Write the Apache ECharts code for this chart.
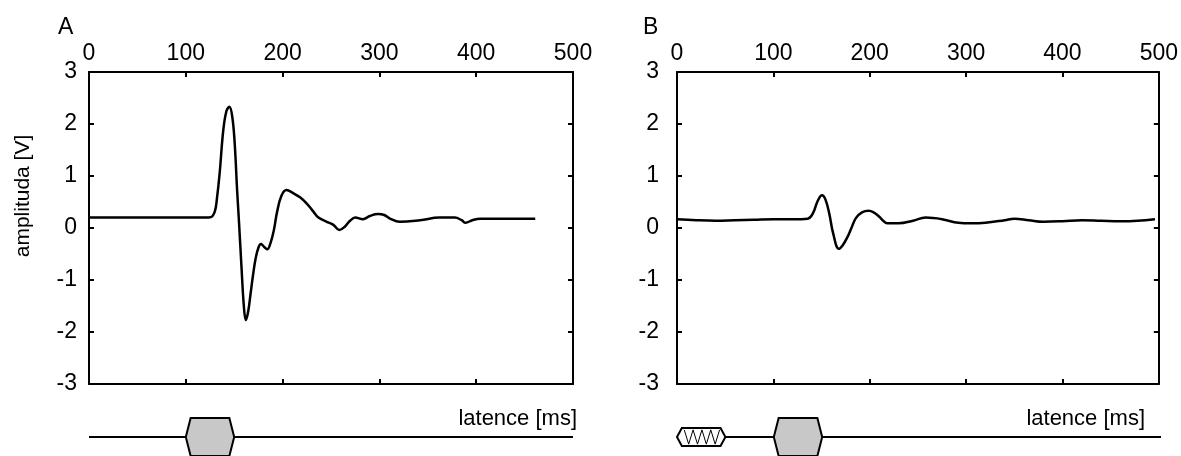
<!DOCTYPE html>
<html>
<head>
<meta charset="utf-8">
<script src="https://cdn.jsdelivr.net/npm/echarts@6/dist/echarts.min.js"></script>
<style>
  html, body { margin: 0; padding: 0; background: #fff; }
  #chart { width: 1181px; height: 456px; }
</style>
</head>
<body>
<div id="chart"></div>
<script>
var FONT = 'Liberation Sans, Arial, sans-serif';

// panel A - response (latence [ms], amplituda [V])
var timeA = [0, 60, 120, 126, 130, 132, 135, 138.7, 142, 145, 148, 150.5, 153, 155, 157.5, 160, 162, 164.5, 167, 169.5, 172, 175, 177.7, 180.8, 184, 187.5, 191, 194.3, 198.8, 204, 211, 218, 225, 232, 237, 245.6, 252.5, 258.6, 264.5, 269.7, 275, 283, 290, 298.5, 305, 311, 321, 342, 362, 378, 385, 389, 396, 404, 430, 461];
var valA = [0.2, 0.2, 0.2, 0.21, 0.32, 0.54, 1.06, 1.88, 2.25, 2.33, 2.14, 1.63, 0.73, 0.1, -0.74, -1.51, -1.77, -1.6, -1.25, -0.9, -0.6, -0.38, -0.31, -0.36, -0.41, -0.29, -0.04, 0.31, 0.62, 0.73, 0.67, 0.59, 0.47, 0.31, 0.2, 0.12, 0.06, -0.04, 0.03, 0.14, 0.2, 0.17, 0.23, 0.27, 0.25, 0.18, 0.12, 0.15, 0.2, 0.2, 0.15, 0.1, 0.15, 0.18, 0.18, 0.18];

// panel B - response after conditioning stimulus
var timeB = [0, 20, 40, 60, 80, 100, 120, 135.6, 141, 146, 150.5, 154, 158, 162, 168, 172, 177, 181, 185.6, 192, 199, 204, 209.7, 214, 218, 230, 245, 258, 275, 292, 305, 320, 340, 350, 365, 380, 400, 420, 440, 460, 478, 496];
var valB = [0.17, 0.15, 0.14, 0.15, 0.16, 0.17, 0.17, 0.18, 0.28, 0.52, 0.63, 0.55, 0.28, -0.1, -0.4, -0.33, -0.17, 0.0, 0.19, 0.3, 0.33, 0.3, 0.22, 0.14, 0.09, 0.09, 0.14, 0.2, 0.17, 0.1, 0.09, 0.1, 0.15, 0.18, 0.15, 0.12, 0.13, 0.15, 0.14, 0.13, 0.14, 0.17];

var xTicks = [0, 500, 100];   // min, max, interval
var yTicks = [-3, 3, 1];

// stimulus schematic: [start ms, end ms, kind] kind 0 = test, 1 = conditioning
var stimA = [[100, 150, 0]];
var stimB = [[0, 50, 1], [100, 150, 0]];
var latenceRange = [0, 500];

function pairs(t, v) {
	var out = [];
	for (var i = 0; i < t.length; i++) {
		out.push([t[i], v[i]]);
	}
	return out;
}

var chart = echarts.init(document.getElementById('chart'));

var grids = [
	{ left: 89, top: 72, width: 484, height: 312 },
	{ left: 677, top: 72, width: 484, height: 312 },
	{ left: 89, top: 418, width: 484, height: 42 },
	{ left: 677, top: 418, width: 484, height: 42 }
];

var lineBlack = { color: '#000', width: 2 };

function xAx(g, pos, labels) {
	return {
		type: 'value', gridIndex: g, position: pos,
		min: xTicks[0], max: xTicks[1], interval: xTicks[2],
		axisLine: { show: true, onZero: false, lineStyle: lineBlack },
		axisTick: { show: true, inside: true, length: 5, lineStyle: lineBlack },
		axisLabel: { show: labels, color: '#000', fontSize: 23, fontFamily: FONT, margin: 7, showMinLabel: true, showMaxLabel: true },
		splitLine: { show: false }
	};
}

function yAx(g, pos, labels, margin) {
	return {
		type: 'value', gridIndex: g, position: pos,
		min: yTicks[0], max: yTicks[1], interval: yTicks[2],
		axisLine: { show: true, onZero: false, lineStyle: lineBlack },
		axisTick: { show: true, inside: true, length: 5, lineStyle: lineBlack },
		axisLabel: { show: labels, color: '#000', fontSize: 23, fontFamily: FONT, margin: margin, showMinLabel: true, showMaxLabel: true },
		splitLine: { show: false }
	};
}

var xAxes = [
	xAx(0, 'top', true), xAx(0, 'bottom', false),
	xAx(1, 'top', true), xAx(1, 'bottom', false),
	{ type: 'value', gridIndex: 2, min: latenceRange[0], max: latenceRange[1], show: false },
	{ type: 'value', gridIndex: 3, min: latenceRange[0], max: latenceRange[1], show: false }
];

var yAxes = [
	yAx(0, 'left', true, 12), yAx(0, 'right', false, 0),
	yAx(1, 'left', true, 18), yAx(1, 'right', false, 0),
	{ type: 'value', gridIndex: 2, min: -1, max: 1, show: false },
	{ type: 'value', gridIndex: 3, min: -1, max: 1, show: false }
];

/*stimulus hexagon*/
function renderStim(params, api) {
	var s = api.value(0), e = api.value(1), kind = api.value(2);
	var h = kind == 1 ? 0.47 : 1;
	var bev = 5;
	var pts = [[s, 0], [s + bev, h], [e - bev, h], [e, 0], [e - bev, -h], [s + bev, -h]].map(function(p) {
		return api.coord(p);
	});
	var children = [{
		type: 'polygon',
		shape: { points: pts },
		style: { fill: kind == 1 ? '#fff' : '#c8c8c8', stroke: '#000', lineWidth: 2 }
	}];
	if (kind == 1) {
		var zig = [];
		var n = 8, x0 = s + 7.5, x1 = e - 6;
		for (var i = 0; i <= n; i++) {
			zig.push(api.coord([x0 + (x1 - x0) * i / n, (i % 2 == 0 ? 0.8 : -0.8) * h]));
		}
		children.push({
			type: 'polyline',
			shape: { points: zig },
			style: { fill: null, stroke: '#000', lineWidth: 1 }
		});
	}
	return { type: 'group', children: children };
}

function baseLine(xi, yi) {
	return {
		type: 'line', xAxisIndex: xi, yAxisIndex: yi,
		data: [[latenceRange[0], 0], [latenceRange[1], 0]],
		symbol: 'none', silent: true, z: 1,
		lineStyle: { color: '#000', width: 2 }
	};
}

var option = {
	backgroundColor: '#fff',
	animation: false,
	title: [
		{ text: 'A', left: 58, top: 16, padding: 0, textStyle: { fontSize: 23, fontWeight: 'normal', color: '#000', fontFamily: FONT } },
		{ text: 'B', left: 643, top: 16, padding: 0, textStyle: { fontSize: 23, fontWeight: 'normal', color: '#000', fontFamily: FONT } }
	],
	grid: grids,
	xAxis: xAxes,
	yAxis: yAxes,
	graphic: [
		{
			type: 'text', x: 23, y: 196, rotation: Math.PI / 2,
			style: { text: 'amplituda [V]', fontSize: 21, fontFamily: FONT, fill: '#000', align: 'center', verticalAlign: 'middle' }
		},
		{ type: 'text', right: 604, top: 408, style: { text: 'latence [ms]', fontSize: 22, fontFamily: FONT, fill: '#000' } },
		{ type: 'text', right: 36, top: 408, style: { text: 'latence [ms]', fontSize: 22, fontFamily: FONT, fill: '#000' } }
	],
	series: [
		{
			type: 'line', xAxisIndex: 0, yAxisIndex: 0,
			data: pairs(timeA, valA), smooth: 0.4, symbol: 'none',
			lineStyle: { color: '#000', width: 2.5 }
		},
		{
			type: 'line', xAxisIndex: 2, yAxisIndex: 2,
			data: pairs(timeB, valB), smooth: 0.4, symbol: 'none',
			lineStyle: { color: '#000', width: 2.5 }
		},
		baseLine(4, 4),
		baseLine(5, 5),
		{
			type: 'custom', xAxisIndex: 4, yAxisIndex: 4, z: 3,
			data: stimA, renderItem: renderStim, clip: false
		},
		{
			type: 'custom', xAxisIndex: 5, yAxisIndex: 5, z: 3,
			data: stimB, renderItem: renderStim, clip: false
		}
	]
};

chart.setOption(option);
</script>
</body>
</html>
